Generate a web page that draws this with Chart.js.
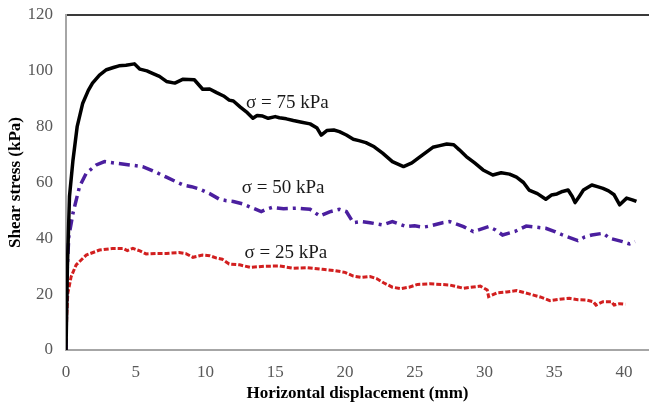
<!DOCTYPE html>
<html>
<head>
<meta charset="utf-8">
<script src="https://cdn.jsdelivr.net/npm/chart.js@4.4.1/dist/chart.umd.min.js"></script>
<style>
  html, body { margin: 0; padding: 0; background: #fff; overflow: hidden; }
  #wrap { width: 649px; height: 404px; }
</style>
</head>
<body>
<div id="wrap"><canvas id="shearChart"></canvas></div>
<script>
// sigma = 75 kPa
const disp75 = [0, 0.1, 0.25, 0.5, 0.8, 1.2, 1.6, 1.9, 2.4, 2.9, 3.4, 3.8, 4.3, 4.9, 5.3, 5.8, 6.2, 6.7, 7.2, 7.8, 8.4, 9.2, 9.8, 10.3, 10.8, 11.3, 11.7, 12.0, 12.5, 13.0, 13.4, 13.7, 14.1, 14.5, 15.0, 15.3, 15.8, 16.3, 16.9, 17.5, 18.0, 18.3, 18.7, 19.2, 19.6, 20.1, 20.6, 21.0, 21.5, 22.1, 22.7, 23.4, 24.2, 24.8, 25.4, 26.3, 26.8, 27.3, 27.8, 28.2, 28.7, 29.3, 29.9, 30.6, 31.2, 31.8, 32.3, 32.8, 33.2, 33.8, 34.4, 34.8, 35.2, 35.6, 36.0, 36.3, 36.5, 36.8, 37.1, 37.7, 38.1, 38.5, 38.9, 39.3, 39.7, 40.2, 40.6, 40.9];
const stress75 = [0, 30, 55, 68, 80, 88.4, 93, 95.6, 98.5, 100.4, 101.2, 101.8, 102, 102.5, 100.6, 100, 99.1, 98, 96.2, 95.6, 97, 96.8, 93.4, 93.5, 92.2, 91, 89.5, 89.2, 87, 85, 83, 84, 83.8, 83, 83.6, 83.2, 82.8, 82.2, 81.6, 81, 79.5, 77, 78.6, 78.8, 78.2, 77, 75.5, 75, 74.3, 72.8, 70.5, 67.5, 65.7, 67, 69.3, 72.6, 73.2, 73.8, 73.5, 71.7, 69.3, 67, 64.5, 62.7, 63.5, 63, 61.9, 60, 57.3, 56, 54, 55.5, 55.9, 56.8, 57.3, 55, 52.8, 55, 57.3, 59.1, 58.5, 57.9, 57, 55.6, 52, 54.4, 53.8, 53.2];

// sigma = 50 kPa
const disp50 = [0, 0.05, 0.2, 0.5, 0.97, 1.45, 2.17, 2.76, 3.6, 4.56, 5.5, 6.35, 7.2, 7.8, 8.4, 9.0, 9.6, 10.3, 11.0, 11.5, 12.0, 12.7, 13.3, 14.0, 14.4, 14.8, 15.6, 16.5, 17.0, 17.5, 18.2, 18.9, 19.6, 20.1, 20.6, 21.2, 21.8, 22.7, 23.4, 24.4, 25.0, 25.6, 26.1, 27.0, 27.5, 28.5, 29.2, 30.3, 30.8, 31.3, 32.2, 33.0, 34.4, 35.0, 35.6, 36.7, 37.2, 37.7, 38.5, 39.0, 39.9, 40.4, 40.8];
const stress50 = [0, 25, 40.6, 49, 58.5, 63.3, 66.3, 67.5, 66.9, 66.3, 65.7, 63.9, 61.9, 60.5, 59.1, 58.5, 57.6, 56, 54, 53.5, 53.2, 52.3, 51, 49.6, 50.5, 51.1, 50.6, 50.8, 50.6, 50.4, 48, 49.5, 50.4, 49.6, 45.6, 46, 45.6, 44.8, 46, 44.2, 44.5, 44, 44.4, 45.6, 46, 44.2, 42.4, 44.2, 43, 41.2, 42.5, 44.4, 43.6, 42.5, 41.2, 39.2, 40.5, 41.2, 41.8, 40, 38.8, 38, 38.8];

// sigma = 25 kPa
const disp25 = [0, 0.05, 0.13, 0.37, 0.73, 1.45, 2.4, 3.36, 4.07, 4.4, 4.8, 5.3, 5.75, 6.5, 7.2, 8.1, 8.6, 9.1, 9.8, 10.3, 10.8, 11.2, 11.7, 12.45, 13.2, 14.2, 15.3, 16.3, 17.3, 18.4, 19.2, 20.0, 20.6, 21.2, 21.8, 22.3, 22.8, 23.4, 24.0, 24.6, 25.2, 26.1, 27.5, 28.5, 29.7, 30.2, 30.3, 30.9, 31.6, 32.3, 33.2, 34.0, 34.7, 35.4, 36.1, 36.7, 37.3, 37.8, 38.0, 38.5, 39.1, 39.3, 39.7, 40.1];
const stress25 = [0, 12, 20.3, 26.3, 30.5, 34, 35.8, 36.4, 36.4, 35.6, 36.4, 35.5, 34.4, 34.6, 34.6, 34.9, 34.5, 33.2, 34, 33.8, 32.9, 32.5, 30.8, 30.5, 29.6, 30, 30.1, 29.3, 29.5, 28.9, 28.5, 27.8, 26.5, 26, 26.3, 25.5, 24, 22.5, 22, 22.5, 23.5, 23.7, 23.3, 22.1, 22.9, 21.5, 19.1, 20.5, 20.8, 21.3, 20.1, 19, 17.7, 18.2, 18.5, 18, 17.9, 17.3, 16.1, 17.3, 17.3, 16.1, 16.6, 16.4];

// curve labels (text, x in mm, y in kPa)
const curveLabels = ['σ = 75 kPa', 'σ = 50 kPa', 'σ = 25 kPa'];
const curveLabelX = [12.9, 12.6, 12.8];
const curveLabelY = [88.5, 58, 34.8];

const yTicks = [0, 20, 40, 60, 80, 100, 120];

function toPoints(xs, ys) {
  return xs.map((x, i) => ({ x: x, y: ys[i] }));
}

const serif = '"Liberation Serif", "DejaVu Serif", serif';

const curveText = {
  id: 'curveText',
  afterDatasetsDraw(chart) {
    const { ctx, scales } = chart;
    ctx.save();
    ctx.font = '19px ' + serif;
    ctx.fillStyle = '#1a1a1a';
    ctx.textAlign = 'left';
    ctx.textBaseline = 'middle';
    curveLabels.forEach((t, i) => {
      ctx.fillText(t, scales.x.getPixelForValue(curveLabelX[i]), scales.y.getPixelForValue(curveLabelY[i]));
    });
    ctx.restore();
  }
};

new Chart(document.getElementById('shearChart'), {
  type: 'line',
  data: {
    datasets: [
      {
        label: 'σ = 75 kPa',
        data: toPoints(disp75, stress75),
        borderColor: '#000000',
        borderWidth: 3.5,
        borderJoinStyle: 'round'
      },
      {
        label: 'σ = 50 kPa',
        data: toPoints(disp50, stress50),
        borderColor: '#4b1f9f',
        borderWidth: 3.5,
        borderDash: [11, 5, 3, 5]
      },
      {
        label: 'σ = 25 kPa',
        data: toPoints(disp25, stress25),
        borderColor: '#d21f1f',
        borderWidth: 3,
        borderDash: [5, 2]
      }
    ]
  },
  options: {
    responsive: true,
    maintainAspectRatio: false,
    animation: false,
    layout: { padding: { top: 15, right: 0, left: 0, bottom: 0 } },
    elements: { point: { radius: 0 }, line: { tension: 0, fill: false } },
    plugins: { legend: { display: false }, tooltip: { enabled: false } },
    scales: {
      x: {
        type: 'linear',
        min: 0,
        max: 41.8,
        grid: { display: false, drawTicks: false },
        border: { color: '#a6a6a6', width: 2 },
        ticks: {
          stepSize: 5,
          includeBounds: false,
          padding: 12,
          color: '#595959',
          font: { family: serif, size: 17 }
        },
        title: {
          display: true,
          text: 'Horizontal displacement (mm)',
          color: '#000',
          font: { family: serif, size: 17, weight: 'bold' },
          padding: { top: 0, bottom: 0 }
        },
        afterFit(scale) { scale.height = 54; }
      },
      y: {
        min: 0,
        max: 120,
        afterBuildTicks(scale) { scale.ticks = yTicks.map(v => ({ value: v })); },
        grid: {
          drawTicks: false,
          lineWidth: 2,
          color: c => (c.tick && c.tick.value === 120 ? '#3a3a3a' : 'rgba(0,0,0,0)')
        },
        border: { color: '#a6a6a6', width: 2 },
        ticks: {
          padding: 13,
          color: '#595959',
          font: { family: serif, size: 17 }
        },
        title: {
          display: true,
          text: 'Shear stress (kPa)',
          color: '#000',
          font: { family: serif, size: 17, weight: 'bold' },
          padding: { top: 5, bottom: 0 }
        },
        afterFit(scale) {
          scale.width = 66;
          scale.paddingTop = 0;
          scale.paddingBottom = 0;
        }
      }
    }
  },
  plugins: [curveText]
});
</script>
</body>
</html>
